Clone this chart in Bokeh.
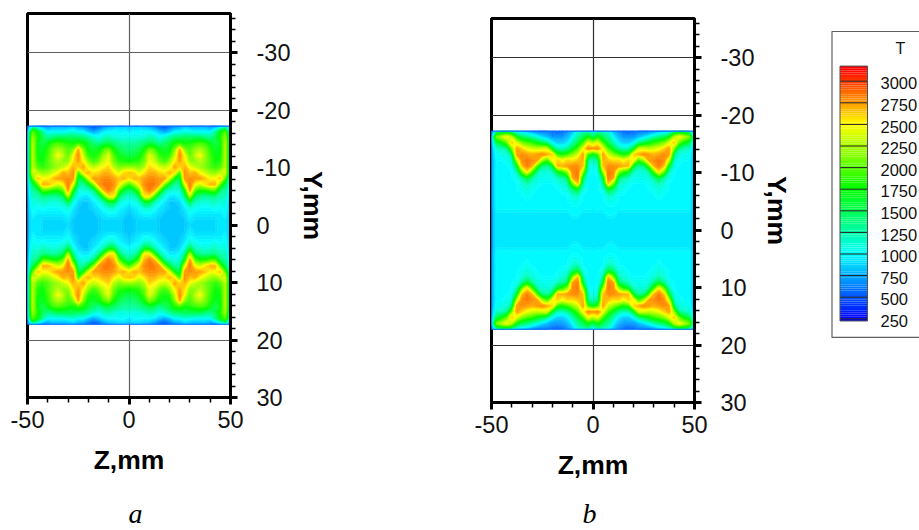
import numpy as np
from bokeh.plotting import figure
from bokeh.layouts import row
from bokeh.embed import file_html
from bokeh.resources import INLINE
from bokeh.models import Range1d, FixedTicker, Title
from bokeh.core.properties import value

Z_HALF = [-50, -47.5, -45, -42.5, -40, -37.5, -35, -32.5, -30, -27.5, -25, -22.5, -20,
          -17.5, -15, -12.5, -10, -7.5, -5, -2.5, 0]
Y_EDGE = 17.25

# Temperature: one list per Z, from the top edge to Y=0 (18 values, 1.015 mm apart)
T_A = [
 [650,780,800,800,800,800,800,800,800,800,800,800,800,800,800,800,800,800],
 [1100,2000,2200,2300,2300,2300,2300,2300,2400,1950,1500,1300,1200,1100,1050,1000,950,950],
 [800,1700,1800,1700,1700,1750,1800,1950,2300,2650,2000,1450,1250,1100,1000,950,950,950],
 [650,1300,1500,1550,1650,1700,1750,1850,2150,2500,2700,2000,1400,1200,1050,950,900,900],
 [650,1000,1350,1700,1850,1900,1950,1950,2200,2500,2700,1950,1350,1150,1000,950,900,900],
 [750,1000,1400,1900,2100,2200,2150,2100,2350,2650,2550,1800,1300,1100,1000,950,900,900],
 [750,1000,1500,1950,2250,2500,2300,2200,2500,2750,2350,1800,1350,1150,1000,950,900,900],
 [750,1000,1500,1900,2150,2300,2150,2300,2700,2750,2500,2000,1500,1200,1050,950,900,900],
 [750,1050,1500,1800,1950,2000,2150,2450,2650,2800,2850,2750,2300,1550,1150,1000,950,900],
 [800,1100,1500,1750,2100,2450,2550,2700,2800,2750,2400,1750,1350,1100,950,900,850,850],
 [700,1000,1450,1900,2700,2800,2750,2600,1900,1500,1300,1100,1000,900,850,850,850,850],
 [650,1000,1400,1800,2100,2300,2500,2750,2550,1700,1300,1100,950,850,850,850,850,850],
 [550,850,1300,1600,1700,1850,2150,2400,2700,2400,1600,1150,950,850,850,850,850,850],
 [450,750,1150,1450,1650,1750,1900,2300,2550,2750,2150,1350,1100,950,900,850,850,850],
 [500,850,1050,1350,1700,1850,2050,2400,2600,2750,2750,2050,1350,1050,950,900,850,850],
 [650,950,1200,1500,1950,2200,2350,2500,2700,2800,2850,2700,1950,1250,1050,950,900,900],
 [750,1000,1250,1550,2100,2400,2450,2600,2700,2800,2850,2850,2550,1600,1150,1000,900,900],
 [800,1000,1150,1450,1750,1950,2050,2250,2550,2750,2800,2700,2550,1600,1150,1000,900,900],
 [850,1000,1100,1350,1550,1700,1850,2100,2400,2650,2550,2050,1500,1200,1000,950,900,900],
 [850,1000,1100,1300,1450,1600,1800,2150,2600,2700,2200,1600,1250,1050,950,900,850,850],
 [800,950,1100,1300,1400,1550,1750,2150,2650,2550,1900,1400,1150,1000,900,850,850,850],
]
T_B = [
 [600,750,750,750,750,750,750,750,750,750,750,750,750,750,750,750,750,750],
 [1200,2100,1500,1150,1050,1000,1000,1000,1000,1000,1000,1000,1000,1000,950,950,950,950],
 [1300,2300,1700,1200,1050,1000,1000,1000,1000,1000,1000,1000,1000,1000,950,950,950,950],
 [1300,2500,2000,1300,1100,1050,1000,1000,1000,1000,1000,1000,1000,1000,950,950,950,950],
 [1150,2300,2650,2100,1400,1100,1050,1000,1000,1000,1000,1000,1000,1000,950,950,950,950],
 [900,1700,2400,2750,2750,2300,1600,1200,1050,1000,1000,1000,1000,1000,950,950,950,950],
 [800,1450,2100,2600,2800,2800,2650,2050,1300,1100,1050,1000,1000,1000,950,950,950,950],
 [750,1350,1950,2450,2750,2850,2850,2550,1600,1250,1100,1050,1000,1000,950,950,950,950],
 [650,1200,1850,2350,2700,2800,2700,1950,1350,1100,1050,1000,1000,1000,950,950,950,950],
 [600,1050,1650,2300,2750,2750,1950,1300,1100,1050,1000,1000,1000,1000,950,950,950,950],
 [600,900,1500,2350,2800,2200,1350,1100,1050,1000,1000,1000,1000,1000,950,950,950,950],
 [600,800,1300,2350,2700,1900,1300,1100,1050,1000,1000,1000,1000,1000,950,950,950,950],
 [550,700,1000,1600,2600,2500,1600,1200,1050,1000,1000,1000,1000,1000,950,950,950,950],
 [500,700,850,1200,1850,2600,2700,1650,1200,1050,1000,1000,1000,1000,950,950,950,950],
 [550,700,850,1150,1750,2450,2700,1850,1300,1100,1050,1000,1000,1000,950,950,950,950],
 [650,800,950,1300,1900,2600,2750,2200,1500,1250,1100,1000,1000,1000,950,950,950,950],
 [800,1000,1250,1600,2150,2550,2800,2800,2750,2100,1450,1150,1050,1000,1000,950,950,950],
 [1100,1300,1550,1950,2350,2650,2800,2850,2850,2650,1600,1200,1050,1000,1000,950,950,950],
 [1150,1500,1900,2450,2750,2700,2650,2200,1550,1250,1100,1000,1000,1000,950,950,950,950],
 [1200,1750,2450,2800,1950,1350,1150,1050,1000,1000,1000,1000,1000,1000,950,950,950,950],
 [950,1450,2250,2750,1600,1200,1050,1000,1000,1000,1000,1000,1000,1000,950,950,950,950],
]

LEGEND_LEVELS = [3000, 2750, 2500, 2250, 2000, 1750, 1500, 1250, 1000, 750, 500, 250]
Y_TICKS = [-30, -20, -10, 0, 10, 20, 30]
Z_TICKS = [-50, 0, 50]
Z_MINOR = [-40, -30, -20, -10, 10, 20, 30, 40]
Y_MINOR = [y for y in np.arange(-36, 32, 2).tolist() if y not in Y_TICKS]

STOP_T = [250, 1000, 1750, 2500, 3150]
STOP_R = [0, 0, 0, 255, 255]
STOP_G = [0, 255, 255, 255, 0]
STOP_B = [255, 255, 0, 0, 0]

def col(t):
    return "#%02x%02x%02x" % (int(np.interp(t, STOP_T, STOP_R)),
                              int(np.interp(t, STOP_T, STOP_G)),
                              int(np.interp(t, STOP_T, STOP_B)))

FONT = "Liberation Sans"
LEVELS = np.arange(200, 3301, 25).astype(float)
FILL = [col(v + 12.5) for v in LEVELS[:-1]]
LINES = [col(v) for v in LEVELS]

def field(table):
    q = np.array(table, dtype=float).T            # rows: edge -> centre, cols: Z -50 -> 0
    top = np.hstack([q, q[:, -2::-1]])
    full = np.vstack([top, top[-2::-1, :]])
    return full

H = 530
def panel(table, width, left, top_px, frame_w, frame_h, y_top, y_bot, letter, letter_offset, letter_gap, grid_color):
    p = figure(width=width, height=H, output_backend="svg", toolbar_location=None,
               x_range=Range1d(-50, 50), y_range=Range1d(y_bot, y_top),
               y_axis_location="right", tools="", frame_align=False,
               frame_width=frame_w, frame_height=frame_h,
               min_border_left=left, min_border_right=width - left - frame_w,
               min_border_top=top_px, min_border_bottom=H - top_px - frame_h)
    p.background_fill_color = "white"
    p.outline_line_color = "black"
    p.outline_line_width = 3
    p.xgrid.ticker = FixedTicker(ticks=[0])
    p.ygrid.ticker = FixedTicker(ticks=[-30, -20, 20])
    for g in (p.xgrid, p.ygrid):
        g.grid_line_color = grid_color
        g.grid_line_width = 1.2
    ax = p.xaxis[0]
    ax.ticker = FixedTicker(ticks=Z_TICKS, minor_ticks=Z_MINOR)
    ay = p.yaxis[0]
    ay.ticker = FixedTicker(ticks=Y_TICKS, minor_ticks=Y_MINOR)
    ax.major_label_overrides = {v: str(v) for v in Z_TICKS}
    ay.major_label_overrides = {v: str(v) for v in Y_TICKS}
    for a in (ax, ay):
        a.axis_line_width = 3
        a.axis_line_color = "black"
        a.major_tick_line_color = "black"
        a.minor_tick_line_color = "black"
        a.major_tick_in = 0
        a.minor_tick_in = 0
        a.major_tick_out = 7
        a.minor_tick_out = 5
        a.major_tick_line_width = 3
        a.minor_tick_line_width = 1.5
        a.major_label_text_font = FONT
        a.major_label_text_font_size = "23.5px"
        a.major_label_text_color = "#111111"
        a.axis_label_text_font = FONT
        a.axis_label_text_font_style = "bold"
        a.axis_label_text_font_size = "26.5px"
        a.axis_label_text_color = "black"
    ax.axis_label = "Z,mm"
    ay.axis_label = "Y,mm"
    ax.major_label_standoff = 6
    ay.major_label_standoff = 19
    ax.axis_label_standoff = 14
    ay.axis_label_standoff = 5

    z = field(table)
    zs = Z_HALF + [-v for v in Z_HALF[-2::-1]]
    ys = np.linspace(-Y_EDGE, Y_EDGE, z.shape[0])
    p.contour(zs, ys, z, LEVELS, fill_color=FILL, line_color=LINES, line_width=0.8)
    p.quad(left=[-50], right=[50], top=[-Y_EDGE], bottom=[Y_EDGE], fill_color=None,
           line_color="#0a6cff", line_width=1.2)
    # the caption sits outside the frame, in a title panel below the axis
    p.add_layout(Title(text=letter, align="left", offset=letter_offset, standoff=letter_gap,
                       text_font="Liberation Serif", text_font_style="italic",
                       text_font_size="28px", text_color="black"), "below")
    return p

pa = panel(T_A, 458, 27, 13, 203, 384, -36.85, 30, "a", 101, 36, "#606060")
pb = panel(T_B, 367, 33, 18, 203, 384, -36.85, 30, "b", 91, 27, "#303030")

# legend panel: frame fills the figure; y is in the legend's own T scale
leg = figure(width=94, height=H, output_backend="svg", toolbar_location=None, tools="",
             frame_width=94, frame_height=H, frame_align=False,
             x_range=Range1d(825, 919), y_range=Range1d(3000 - (530 - 80.7) * 11.574, 3000 + 80.7 * 11.574),
             min_border_left=0, min_border_right=0, min_border_top=0, min_border_bottom=0,
             x_axis_type=None, y_axis_type=None)
leg.outline_line_color = None
leg.grid.visible = False
leg.quad(left=[831.5], right=[930], top=[3575], bottom=[34], fill_color="white", line_color="#606060", line_width=1.2)
steps = np.arange(225, 3175, 25).astype(float)
leg.quad(left=839.5, right=867, bottom=steps, top=steps + 25, fill_color=[col(v + 12.5) for v in steps], line_color=None)
leg.segment(x0=[839.5] * len(LEGEND_LEVELS), x1=[867] * len(LEGEND_LEVELS), y0=LEGEND_LEVELS, y1=LEGEND_LEVELS,
            line_color="#202020", line_width=1)
leg.quad(left=[839.5], right=[867], bottom=[225], top=[3175], fill_color=None, line_color="#505050", line_width=1)
leg.text(x=[880] * len(LEGEND_LEVELS), y=[v - 25 for v in LEGEND_LEVELS], text=[str(v) for v in LEGEND_LEVELS],
         text_font=value(FONT), text_font_size="16.5px", text_baseline="middle", text_color="#111111")
leg.text(x=[900], y=[3375], text=["T"], text_font=value(FONT), text_font_size="16px",
         text_align="center", text_baseline="middle", text_color="#111111")

open("out.html", "w").write(file_html(row(pa, pb, leg, spacing=0), INLINE))
